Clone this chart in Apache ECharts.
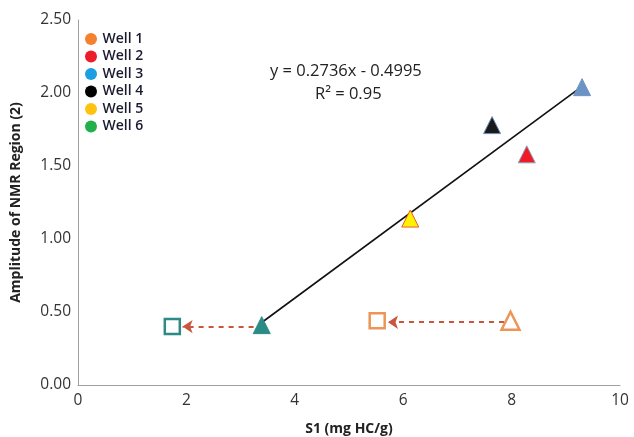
<!DOCTYPE html>
<html>
<head>
<meta charset="utf-8">
<script src="https://cdn.jsdelivr.net/npm/echarts@6/dist/echarts.min.js"></script>
<style>
  html, body { margin: 0; padding: 0; background: #fff; }
  #chart { width: 634px; height: 437px; }
</style>
</head>
<body>
<div id="chart"></div>
<script>
// well names and legend colours
var wells = ['Well 1', 'Well 2', 'Well 3', 'Well 4', 'Well 5', 'Well 6'];
var legendColors = ['#f4812f', '#ec1c2a', '#1c9ee0', '#000000', '#ffc20e', '#22b04c'];

// measured points [S1, amplitude]
var well1Tri = [[7.98, 0.44]];
var well1Sq = [[5.52, 0.44]];
var well2Pts = [[8.28, 1.58]];
var well3Pts = [[9.30, 2.04]];
var well4Pts = [[7.64, 1.78]];
var well5Pts = [[6.13, 1.14]];
var well6Tri = [[3.39, 0.41]];
var well6Sq = [[1.74, 0.40]];

// dashed shift arrows [from, to]
var arrows = [
  [[7.86, 0.43], [5.72, 0.43]],
  [[3.24, 0.40], [1.93, 0.40]]
];

// linear fit
var slope = 0.2736, intercept = -0.4995;
var fitRange = [3.39, 9.30];

var chart = echarts.init(document.getElementById('chart'));
var font = '"Open Sans", "Liberation Sans", sans-serif';

function tri(name, data, color, border) {
  return {
    name: name, type: 'scatter', data: data, symbol: 'triangle', symbolSize: 17,
    itemStyle: { color: color, borderColor: border, borderWidth: 1, opacity: 1 },
    z: 5
  };
}
function hollow(name, data, symbol, color, size) {
  return {
    name: name, type: 'scatter', data: data, symbol: symbol, symbolSize: size,
    itemStyle: { color: '#fff', borderColor: color, borderWidth: 2.5, opacity: 1 },
    z: 5
  };
}

chart.setOption({
  animation: false,
  backgroundColor: '#fff',
  grid: { left: 78, right: 14, top: 20, bottom: 52, outerBoundsMode: 'none', containLabel: false },
  legend: {
    orient: 'vertical', left: 80, top: 27, itemGap: 3.5,
    icon: 'circle', itemWidth: 13, itemHeight: 12,
    textStyle: { fontFamily: font, fontSize: 14, color: '#1a1a2e', fontWeight: 600 },
    data: wells.map(function (w, i) {
      return { name: w, itemStyle: { color: legendColors[i], borderWidth: 0 } };
    })
  },
  xAxis: {
    type: 'value', min: 0, max: 10, interval: 2,
    name: 'S1 (mg HC/g)', nameLocation: 'middle', nameGap: 37,
    nameTextStyle: { fontFamily: font, fontSize: 14, fontWeight: 'bold', color: '#222' },
    axisLine: { lineStyle: { color: '#a0a0a0' } },
    axisTick: { show: false },
    splitLine: { show: false },
    axisLabel: { fontFamily: font, fontSize: 15.5, color: '#333', margin: 8 }
  },
  yAxis: {
    type: 'value', min: 0, max: 2.5, interval: 0.5,
    name: 'Amplitude of NMR Region (2)', nameLocation: 'middle', nameGap: 55,
    nameTextStyle: { fontFamily: font, fontSize: 14, fontWeight: 'bold', color: '#222' },
    axisLine: { show: true, lineStyle: { color: '#a0a0a0' } },
    axisTick: { show: false },
    splitLine: { show: false },
    axisLabel: { fontFamily: font, fontSize: 15.5, color: '#333', margin: 7,
      formatter: function (v) { return v.toFixed(2); } }
  },
  graphic: [
    { type: 'text', left: 270, top: 63,
      style: { text: 'y = 0.2736x - 0.4995', font: '16.5px ' + font, fill: '#222' } },
    { type: 'text', left: 315, top: 86,
      style: { text: 'R² = 0.95', font: '16.5px ' + font, fill: '#222' } }
  ],
  series: [
    {
      name: 'fit', type: 'line', symbol: 'none', silent: true,
      data: fitRange.map(function (x) { return [x, slope * x + intercept]; }),
      lineStyle: { color: '#111', width: 1.6 }, z: 3
    },
    {
      name: 'shift', type: 'lines', coordinateSystem: 'cartesian2d', silent: true,
      symbol: ['none', 'arrow'], symbolSize: 10,
      lineStyle: { color: '#c9553c', width: 1.8, type: [5, 5], opacity: 1 },
      data: arrows.map(function (a) { return { coords: a }; }), z: 4
    },
    hollow('Well 1', well1Tri, 'triangle', '#ec9556', 18),
    hollow('Well 1', well1Sq, 'rect', '#ec9556', 15),
    tri('Well 2', well2Pts, '#ee1c25', '#8aa0c0'),
    tri('Well 3', well3Pts, '#6b94c4', '#6b94c4'),
    tri('Well 4', well4Pts, '#1a1a1a', '#6f8fb8'),
    tri('Well 5', well5Pts, '#fff200', '#f05a28'),
    tri('Well 6', well6Tri, '#2b8c86', '#2b8c86'),
    hollow('Well 6', well6Sq, 'rect', '#2b8c86', 15)
  ]
});
</script>
</body>
</html>
